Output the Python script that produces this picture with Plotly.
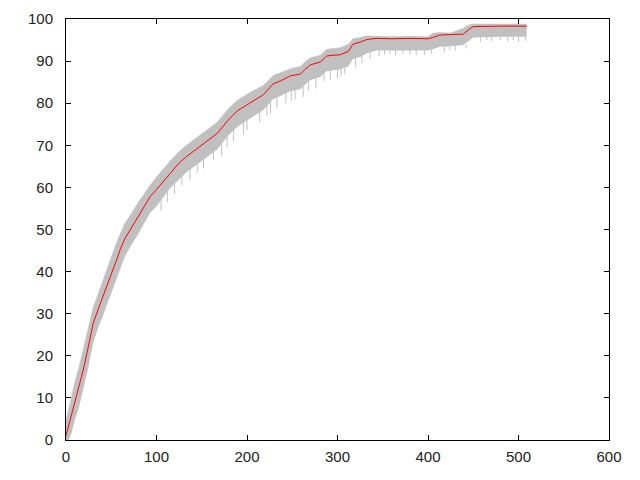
import plotly.graph_objects as go

# sample positions along x (generation / step)
x_vals = [0, 3, 6, 10, 14, 19, 25, 27, 30, 36, 40, 45, 50, 56, 60, 65, 70, 80, 93, 100,
          115, 125, 133, 148, 160, 167, 180, 190, 203, 210, 218, 229, 237, 248, 259, 264,
          270, 281, 288, 295, 303, 312, 317, 325, 332, 343, 360, 380, 400, 405, 413, 425,
          439, 445, 450, 480, 509]

mean_vals = [1.0, 3.5, 6.2, 9.5, 12.2, 16.6, 22.5, 24.8, 27.7, 31.3, 33.5, 36.4, 39.4, 42.8,
             45.3, 47.8, 49.6, 53.0, 57.8, 59.5, 63.4, 65.8, 67.3, 69.7, 71.8, 72.8, 76.2,
             78.3, 80.0, 81.0, 82.0, 84.6, 85.3, 86.5, 86.9, 88.0, 89.1, 89.8, 91.2, 91.4,
             91.5, 92.3, 94.0, 94.5, 95.1, 95.4, 95.3, 95.4, 95.3, 95.6, 96.2, 96.3, 96.4,
             97.5, 98.2, 98.3, 98.3]

upper_vals = [4.5, 7.5, 10.5, 14.0, 17.0, 21.5, 27.0, 29.0, 31.5, 35.0, 37.5, 40.5, 43.5, 47.0,
              49.0, 51.5, 53.0, 56.5, 60.5, 62.5, 66.3, 68.5, 70.0, 72.5, 74.5, 75.5, 78.8,
              80.8, 82.5, 83.3, 84.2, 86.6, 87.2, 88.2, 88.7, 89.8, 90.8, 91.4, 92.8, 93.0,
              93.2, 94.0, 95.3, 95.6, 96.0, 95.9, 95.8, 95.9, 95.8, 96.6, 96.8, 96.7, 97.8,
              98.6, 98.8, 98.8, 98.8]

lower_vals = [0.0, 0.0, 1.5, 5.0, 7.5, 12.0, 17.5, 20.0, 23.0, 27.0, 29.0, 32.0, 35.0, 38.5,
              41.0, 43.5, 45.5, 49.0, 54.0, 55.5, 59.8, 62.0, 63.6, 66.0, 68.0, 69.0, 72.5,
              74.5, 76.3, 77.3, 78.4, 81.0, 81.7, 82.9, 83.3, 84.4, 85.5, 86.2, 87.6, 87.8,
              88.0, 88.8, 90.5, 91.0, 91.8, 92.5, 92.5, 92.6, 92.5, 92.8, 93.4, 93.5, 93.8,
              94.8, 95.6, 95.8, 95.8]

# downward spikes of the gray error band
spike_x = [105, 112, 120, 128, 137, 145, 152, 163, 172, 178, 185, 196, 200, 214, 222, 226,
           233, 243, 249, 253, 262, 268, 276, 285, 292, 300, 304, 308, 320, 327, 336, 346,
           352, 358, 364, 372, 380, 387, 396, 404, 418, 424, 430, 442, 458, 465, 470, 480,
           488, 494, 500, 508]
spike_lo = [54.5, 56.5, 58.5, 60.5, 61.8, 63.5, 64.5, 66.5, 67.5, 69.5, 71.0, 72.5, 73.5,
            75.5, 77.0, 77.5, 78.8, 80.0, 80.5, 80.8, 81.5, 83.0, 83.5, 85.2, 85.5, 86.0,
            86.5, 87.0, 88.5, 89.5, 90.5, 91.2, 91.5, 91.8, 91.3, 91.8, 91.6, 91.4, 91.5,
            91.8, 92.0, 92.5, 92.5, 93.0, 94.6, 95.0, 94.8, 95.0, 94.7, 95.0, 94.6, 94.8]
spike_hi = [57.5, 59.0, 61.0, 62.8, 64.5, 65.8, 67.0, 68.8, 70.5, 72.0, 73.8, 75.5, 76.0,
            78.0, 79.5, 80.5, 81.5, 82.5, 83.0, 83.2, 84.0, 85.0, 86.0, 87.5, 88.0, 88.0,
            88.3, 88.5, 91.0, 91.5, 92.0, 92.5, 92.6, 92.6, 92.6, 92.6, 92.6, 92.6, 92.6,
            92.8, 93.5, 93.5, 93.6, 94.0, 95.8, 95.8, 95.8, 95.8, 95.8, 95.8, 95.8, 95.8]

x_ticks = [0, 100, 200, 300, 400, 500, 600]
y_ticks = [0, 10, 20, 30, 40, 50, 60, 70, 80, 90, 100]

GRAY = "#c0c0c0"

fig = go.Figure()
fig.add_trace(go.Scatter(x=x_vals, y=lower_vals, mode="lines",
                         line=dict(width=0, color=GRAY), hoverinfo="skip", showlegend=False))
fig.add_trace(go.Scatter(x=x_vals, y=upper_vals, mode="lines", fill="tonexty",
                         fillcolor=GRAY, line=dict(width=0.5, color=GRAY),
                         hoverinfo="skip", showlegend=False))

sx, sy = [], []
for xv, lo, hi in zip(spike_x, spike_lo, spike_hi):
    sx += [xv, xv, None]
    sy += [lo, hi, None]
fig.add_trace(go.Scatter(x=sx, y=sy, mode="lines", line=dict(width=1, color=GRAY),
                         hoverinfo="skip", showlegend=False))

fig.add_trace(go.Scatter(x=x_vals, y=mean_vals, mode="lines",
                         line=dict(width=1, color="#ff0000"), showlegend=False))

axis_common = dict(showgrid=False, zeroline=False, showline=True, linecolor="black",
                   linewidth=1, mirror="ticks", ticks="inside", ticklen=5, tickwidth=1,
                   tickcolor="black", tickfont=dict(family="Liberation Sans, Arial", size=15,
                                                     color="#222222"))

fig.update_layout(
    width=640, height=480,
    margin=dict(l=58, r=39, t=11, b=48, autoexpand=False),
    paper_bgcolor="white", plot_bgcolor="white",
    xaxis=dict(range=[0, 600], tickvals=x_ticks, ticktext=[str(v) for v in x_ticks],
               ticklabelstandoff=3, **axis_common),
    yaxis=dict(range=[0, 100], tickvals=y_ticks, ticktext=[str(v) for v in y_ticks],
               ticklabelstandoff=9, **axis_common),
)

fig.write_html("out.html")
